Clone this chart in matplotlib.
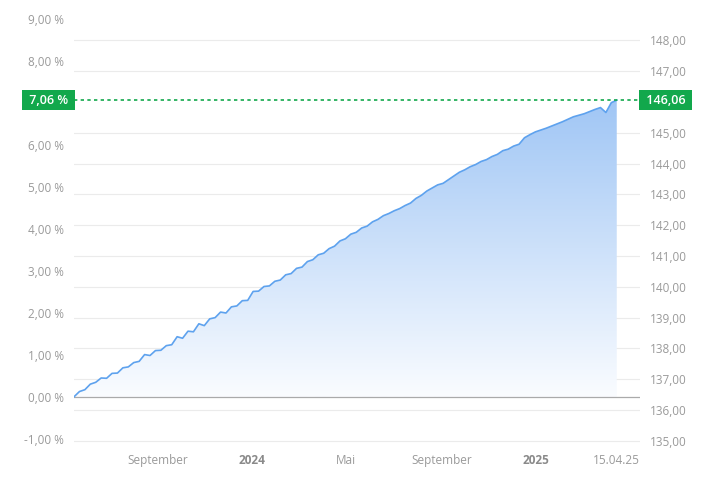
import numpy as np
import pandas as pd
import matplotlib
matplotlib.use("Agg")
import matplotlib.pyplot as plt
import matplotlib.dates as mdates
import matplotlib.transforms as mtransforms

plt.rcParams['font.family'] = ['Open Sans', 'DejaVu Sans']

# weekly closing prices (right axis)
prices = [
    136.43, 136.60, 136.66, 136.84, 136.90, 137.04, 137.03, 137.19, 137.20, 137.37,
    137.40, 137.54, 137.58, 137.80, 137.77, 137.93, 137.94, 138.09, 138.12, 138.38,
    138.33, 138.56, 138.54, 138.80, 138.74, 138.96, 139.00, 139.18, 139.15, 139.35,
    139.38, 139.55, 139.56, 139.85, 139.86, 140.01, 140.03, 140.18, 140.22, 140.39,
    140.43, 140.60, 140.64, 140.82, 140.88, 141.04, 141.09, 141.24, 141.32, 141.49,
    141.56, 141.71, 141.77, 141.91, 141.97, 142.11, 142.19, 142.31, 142.38, 142.47,
    142.54, 142.64, 142.72, 142.87, 142.97, 143.11, 143.21, 143.31, 143.36, 143.48,
    143.60, 143.72, 143.80, 143.90, 143.97, 144.07, 144.13, 144.23, 144.30, 144.42,
    144.47, 144.57, 144.63, 144.84, 144.94, 145.03, 145.09, 145.15, 145.22, 145.29,
    145.36, 145.44, 145.52, 145.57, 145.62, 145.69, 145.76, 145.82, 145.66, 145.98,
    146.06,
]
end_date = '2025-04-15'
dates = pd.date_range(end=end_date, periods=len(prices), freq='7D')

price_ticks = [135, 136, 137, 138, 139, 140, 141, 142, 143, 144, 145, 147, 148]
pct_ticks = [-1, 0, 1, 2, 3, 4, 5, 6, 8, 9]
x_ticks = ['2023-09-01', '2024-01-01', '2024-05-01', '2024-09-01', '2025-01-01', end_date]
x_labels = ['September', '2024', 'Mai', 'September', '2025', '15.04.25']
bold_labels = ['2024', '2025']

base = prices[0]
last = prices[-1]
last_pct = (last / base - 1) * 100

green = '#12a84c'
line_col = '#5ea2ee'
label_col = '#9a9a9a'

fig = plt.figure(figsize=(7.01, 4.96), dpi=100)
ax = fig.add_axes([0.1056, 0.1069, 0.8074, 0.8706])

x = mdates.date2num(dates)
y = np.array(prices)

# gradient fill under the line
poly = ax.fill_between(x, y, base, color='none', lw=0)
top_rgb = np.array([160, 198, 245]) / 255
bot_rgb = np.array([250, 252, 255]) / 255
t = np.linspace(1, 0, 256)[:, None]
grad = np.zeros((256, 1, 4))
grad[:, 0, :3] = bot_rgb + (top_rgb - bot_rgb) * t
grad[:, 0, 3] = 1
im = ax.imshow(grad, extent=[x[0], x[-1], base, last], aspect='auto',
               origin='upper', zorder=1)
im.set_clip_path(poly.get_paths()[0], transform=ax.transData)

ax.plot(x, y, color=line_col, lw=1.2, zorder=3)

ax.set_xlim(x[0], x[-1] + 30)
ax.set_ylim(134.93, 148.95)

for s in ax.spines.values():
    s.set_visible(False)

ax.yaxis.tick_right()
ax.set_yticks(price_ticks)
ax.set_yticklabels([f'{v:.2f}'.replace('.', ',') for v in price_ticks])
ax.tick_params(axis='y', length=0, pad=7, labelsize=8.5, labelcolor=label_col)
for v in price_ticks:
    ax.axhline(v, color='#ebebeb', lw=0.8, zorder=0)
ax.axhline(base, color='#aaaaaa', lw=0.9, zorder=2)

sec = ax.secondary_yaxis('left', functions=(lambda p: (p / base - 1) * 100,
                                            lambda q: base * (1 + q / 100)))
sec.set_yticks(pct_ticks)
sec.set_yticklabels([f'{v:.2f} %'.replace('.', ',') for v in pct_ticks])
sec.tick_params(axis='y', length=0, pad=7, labelsize=8.5, labelcolor=label_col)
for s in sec.spines.values():
    s.set_visible(False)

ax.set_xticks(mdates.date2num(pd.to_datetime(x_ticks)))
ax.set_xticklabels(x_labels)
ax.tick_params(axis='x', length=0, pad=8, labelsize=8.5, labelcolor=label_col)
for lab in ax.get_xticklabels():
    if lab.get_text() in bold_labels:
        lab.set_fontweight('bold')
        lab.set_color('#8a8a8a')

# last value marker line and badges
ax.axhline(last, color=green, lw=1.2, ls=(0, (2, 2)), zorder=4)
blend = mtransforms.blended_transform_factory(ax.transAxes, ax.transData)
off_l = mtransforms.ScaledTranslation(-2 / 72, 0, fig.dpi_scale_trans)
ax.text(0, last, ' ' + f'{last_pct:.2f} %'.replace('.', ',') + ' ', transform=blend + off_l,
        ha='right', va='center', color='white', fontsize=9, fontweight='semibold',
        bbox=dict(boxstyle='square,pad=0.28', fc=green, ec='none'), clip_on=False, zorder=5)
off_r = mtransforms.ScaledTranslation(2 / 72, 0, fig.dpi_scale_trans)
ax.text(1, last, ' ' + f'{last:.2f}'.replace('.', ',') + ' ', transform=blend + off_r,
        ha='left', va='center', color='white', fontsize=9, fontweight='semibold',
        bbox=dict(boxstyle='square,pad=0.28', fc=green, ec='none'), clip_on=False, zorder=5)

fig.savefig('out.png', dpi=100)
